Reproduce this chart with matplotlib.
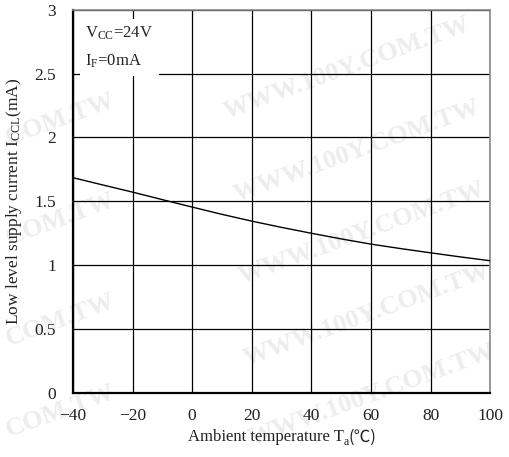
import matplotlib
matplotlib.use("Agg")
import matplotlib.pyplot as plt
import numpy as np

# Data
temp_c = [-40, -30, -20, -10, 0, 10, 20, 30, 40, 50, 60, 70, 80, 90, 100]
icc_ma = [1.685, 1.628, 1.572, 1.513, 1.455, 1.398, 1.345, 1.296, 1.250, 1.206, 1.165, 1.130, 1.097, 1.065, 1.035]
x_ticks = [-40, -20, 0, 20, 40, 60, 80, 100]
y_ticks = [0, 0.5, 1, 1.5, 2, 2.5, 3]
y_ticklabels = ["0", "0.5", "1", "1.5", "2", "2.5", "3"]
x_ticklabels = ["\u221240", "\u221220", "0", "20", "40", "60", "80", "100"]
watermark = "WWW.100Y.COM.TW"
watermark_part = "COM.TW"

plt.rcParams['font.family'] = ['Liberation Serif', 'DejaVu Serif', 'Noto Sans CJK JP']
plt.rcParams['mathtext.fontset'] = 'custom'
plt.rcParams['mathtext.rm'] = 'Liberation Serif'
plt.rcParams['mathtext.it'] = 'Liberation Serif'

fig = plt.figure(figsize=(5.10, 4.57), dpi=100)
fig.patch.set_facecolor('white')

# watermark tiling (very light), kept inside the canvas
wm_full = [(0.68, 0.85), (0.70, 0.67), (0.71, 0.49), (0.72, 0.31), (0.73, 0.135)]
for (wx, wy) in wm_full:
    fig.text(wx, wy, watermark, rotation=20, fontsize=19, fontweight='bold',
             color='#ededed', ha='center', va='center', zorder=0,
             family='Liberation Serif')
wm_part = [(0.005, 0.74), (0.005, 0.52), (0.005, 0.30), (0.005, 0.10)]
for (wx, wy) in wm_part:
    fig.text(wx, wy, watermark_part, rotation=20, fontsize=19, fontweight='bold',
             color='#ededed', ha='left', va='center', zorder=0,
             family='Liberation Serif')

ax = fig.add_axes([0.143, 0.140, 0.818, 0.839])
ax.set_facecolor('none')
ax.set_zorder(2)

ax.plot(temp_c, icc_ma, color='black', lw=1.0, zorder=3)

ax.set_xlim(-40, 100)
ax.set_ylim(0, 3)
ax.set_xticks(x_ticks)
ax.set_xticklabels(x_ticklabels)
ax.set_yticks(y_ticks)
ax.set_yticklabels(y_ticklabels)
ax.tick_params(length=0, labelsize=12.5, colors='#222222')
ax.tick_params(axis='x', pad=11)
ax.tick_params(axis='y', pad=12)
ax.grid(True, color='black', lw=0.9)

for s in ['left', 'bottom']:
    ax.spines[s].set_color('black')
    ax.spines[s].set_linewidth(1.6)
for s in ['top', 'right']:
    ax.spines[s].set_color('#888888')
    ax.spines[s].set_linewidth(1.2)

# x label built from pieces so the degree-Celsius sign gets a font that has it
lab_y = 0.034
t1 = fig.text(0.368, lab_y, "Ambient temperature T", fontsize=12, color='#222222',
              ha='left', va='baseline')
fig.canvas.draw()
r = fig.canvas.get_renderer()
bb = t1.get_window_extent(r)
x_a = bb.x1 / fig.bbox.width
t2 = fig.text(x_a, lab_y - 0.008, "a", fontsize=8.5, color='#222222', ha='left', va='baseline')
bb2 = t2.get_window_extent(r)
x_c = bb2.x1 / fig.bbox.width
fig.text(x_c, lab_y, "(\u2103)", fontsize=12, color='#222222', ha='left', va='baseline',
         family=['Noto Sans CJK JP', 'DejaVu Sans'])

ax.set_ylabel("Low level supply current I$_\\mathregular{CCL}$(mA)", fontsize=12.5, labelpad=8, color='#222222')

ax.text(0.03, 0.96, "V$_\\mathregular{CC}$=24V\nI$_\\mathregular{F}$=0mA", transform=ax.transAxes,
        fontsize=12, va='top', ha='left', linespacing=1.8, color='#222222',
        bbox=dict(facecolor='white', edgecolor='none', pad=4), zorder=4)

fig.savefig("out.png", dpi=100)
